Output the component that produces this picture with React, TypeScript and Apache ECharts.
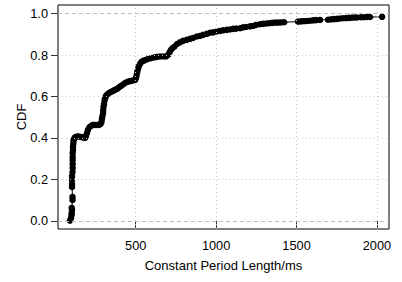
import React, { useEffect, useRef } from "react";
import * as echarts from "echarts";

// Constant period length (ms) vs CDF
const periodMs: number[] = [
  91, 98, 101, 102, 104, 102, 107, 107, 104, 104, 104, 104, 107, 108, 108, 108, 108, 108, 110, 110,
  112, 113, 116, 122, 135, 147, 160, 172, 185, 191, 197, 203, 213, 222, 234, 247, 259, 272, 281, 287,
  290, 293, 297, 298, 300, 303, 306, 309, 315, 325, 334, 346, 359, 371, 384, 396, 409, 421, 433, 446,
  458, 471, 483, 496, 502, 506, 510, 514, 519, 527, 536, 547, 561, 576, 595, 614, 632, 651, 670, 688,
  701, 710, 719, 729, 741, 757, 775, 794, 817, 838, 856, 879, 900, 919, 942, 962, 981, 1004, 1024, 1043,
  1066, 1086, 1105, 1124, 1149, 1167, 1186, 1211, 1230, 1248, 1273, 1292, 1311, 1329, 1348, 1366, 1385, 1404, 1423,
  1509, 1528, 1547, 1565, 1584, 1603, 1621, 1646,
  1696, 1715, 1733, 1752, 1771, 1789, 1808, 1827, 1845, 1864, 1876, 1901, 1920, 1938, 1957, 2032,
];
const cdfValues: number[] = [
  0.002, 0.014, 0.029, 0.039, 0.053, 0.063, 0.101, 0.116, 0.164, 0.178, 0.198, 0.217, 0.236, 0.256, 0.275, 0.294, 0.309, 0.328, 0.342, 0.357,
  0.371, 0.386, 0.395, 0.403, 0.407, 0.407, 0.405, 0.403, 0.4, 0.41, 0.424, 0.439, 0.453, 0.458, 0.463, 0.463, 0.463, 0.463, 0.468, 0.477,
  0.492, 0.506, 0.521, 0.535, 0.55, 0.564, 0.579, 0.591, 0.603, 0.612, 0.617, 0.622, 0.627, 0.632, 0.637, 0.644, 0.651, 0.658, 0.665, 0.67,
  0.673, 0.675, 0.677, 0.68, 0.69, 0.704, 0.719, 0.733, 0.745, 0.757, 0.767, 0.772, 0.776, 0.781, 0.785, 0.788, 0.791, 0.793, 0.793, 0.793,
  0.8, 0.813, 0.825, 0.834, 0.841, 0.853, 0.861, 0.868, 0.873, 0.878, 0.882, 0.889, 0.892, 0.897, 0.902, 0.907, 0.909, 0.913, 0.916, 0.919,
  0.921, 0.923, 0.926, 0.927, 0.929, 0.933, 0.935, 0.938, 0.94, 0.945, 0.948, 0.95, 0.952, 0.953, 0.955, 0.956, 0.956, 0.957, 0.958,
  0.961, 0.962, 0.963, 0.964, 0.965, 0.967, 0.968, 0.969,
  0.97, 0.972, 0.973, 0.974, 0.976, 0.977, 0.978, 0.979, 0.98, 0.981, 0.981, 0.982, 0.982, 0.983, 0.983, 0.984,
];

const xTicks: number[] = [500, 1000, 1500, 2000];
const yTicks: number[] = [0, 0.2, 0.4, 0.6, 0.8, 1.0];
const yDotted: number[] = [0.2, 0.4, 0.6, 0.8];
const yDashed: number[] = [0, 1.0];

const X_MIN = 16.8;
const X_MAX = 2075;
const Y_MIN = -0.0386;
const Y_MAX = 1.041;

const FONT = "Liberation Sans, Arial, Helvetica, sans-serif";

export default function App() {
  const ref = useRef<HTMLDivElement>(null);
  useEffect(() => {
    if (!ref.current) return;
    const chart = echarts.init(ref.current, undefined, { renderer: "svg" });
    const gridGray = "#c4c4c4";
    const points = periodMs.map((x, i) => [x, cdfValues[i]]);
    chart.setOption({
      animation: false,
      backgroundColor: "#fff",
      grid: {
        left: 58,
        top: 5,
        width: 331,
        height: 224,
        show: true,
        borderColor: "#000",
        borderWidth: 1,
        backgroundColor: "transparent",
        containLabel: false,
      },
      xAxis: {
        type: "value",
        min: X_MIN,
        max: X_MAX,
        name: "Constant Period Length/ms",
        nameLocation: "middle",
        nameGap: 30,
        nameTextStyle: { fontFamily: FONT, fontSize: 13, color: "#000" },
        axisLine: { show: false },
        axisTick: {
          show: true,
          length: 7,
          customValues: xTicks,
          lineStyle: { color: "#333", width: 1 },
        },
        axisLabel: {
          customValues: xTicks,
          margin: 10,
          fontFamily: FONT,
          fontSize: 12.8,
          color: "#000",
          formatter: (v: number) => String(v),
        },
        splitLine: { show: false },
      },
      yAxis: {
        type: "value",
        min: Y_MIN,
        max: Y_MAX,
        name: "CDF",
        nameLocation: "middle",
        nameGap: 30,
        nameMoveOverlap: false,
        nameTextStyle: { fontFamily: FONT, fontSize: 13, color: "#000" },
        axisLine: { show: false },
        axisTick: {
          show: true,
          length: 7,
          customValues: yTicks,
          lineStyle: { color: "#333", width: 1 },
        },
        axisLabel: {
          customValues: yTicks,
          margin: 10,
          fontFamily: FONT,
          fontSize: 12.8,
          color: "#000",
          formatter: (v: number) => v.toFixed(1),
        },
        splitLine: { show: false },
      },
      series: [
        {
          type: "line",
          data: [],
          z: 1,
          silent: true,
          markLine: {
            silent: true,
            symbol: ["none", "none"],
            label: { show: false },
            animation: false,
            data: [
              ...xTicks.map((v) => ({ xAxis: v, lineStyle: { type: [1, 3], color: gridGray, width: 1 } })),
              ...yDotted.map((v) => ({ yAxis: v, lineStyle: { type: [1, 3], color: gridGray, width: 1 } })),
              ...yDashed.map((v) => ({ yAxis: v, lineStyle: { type: [4, 3], color: "#bdbdbd", width: 1 } })),
            ],
          },
        },
        {
          type: "line",
          data: points,
          z: 3,
          symbol: "circle",
          symbolSize: 6.5,
          showAllSymbol: true,
          itemStyle: { color: "#000" },
          lineStyle: { color: "#000", width: 1 },
        },
      ],
    });
    return () => chart.dispose();
  }, []);
  return (
    <div
      ref={ref}
      style={{ position: "fixed", left: 0, top: 0, width: 402, height: 282, background: "#fff" }}
    />
  );
}
